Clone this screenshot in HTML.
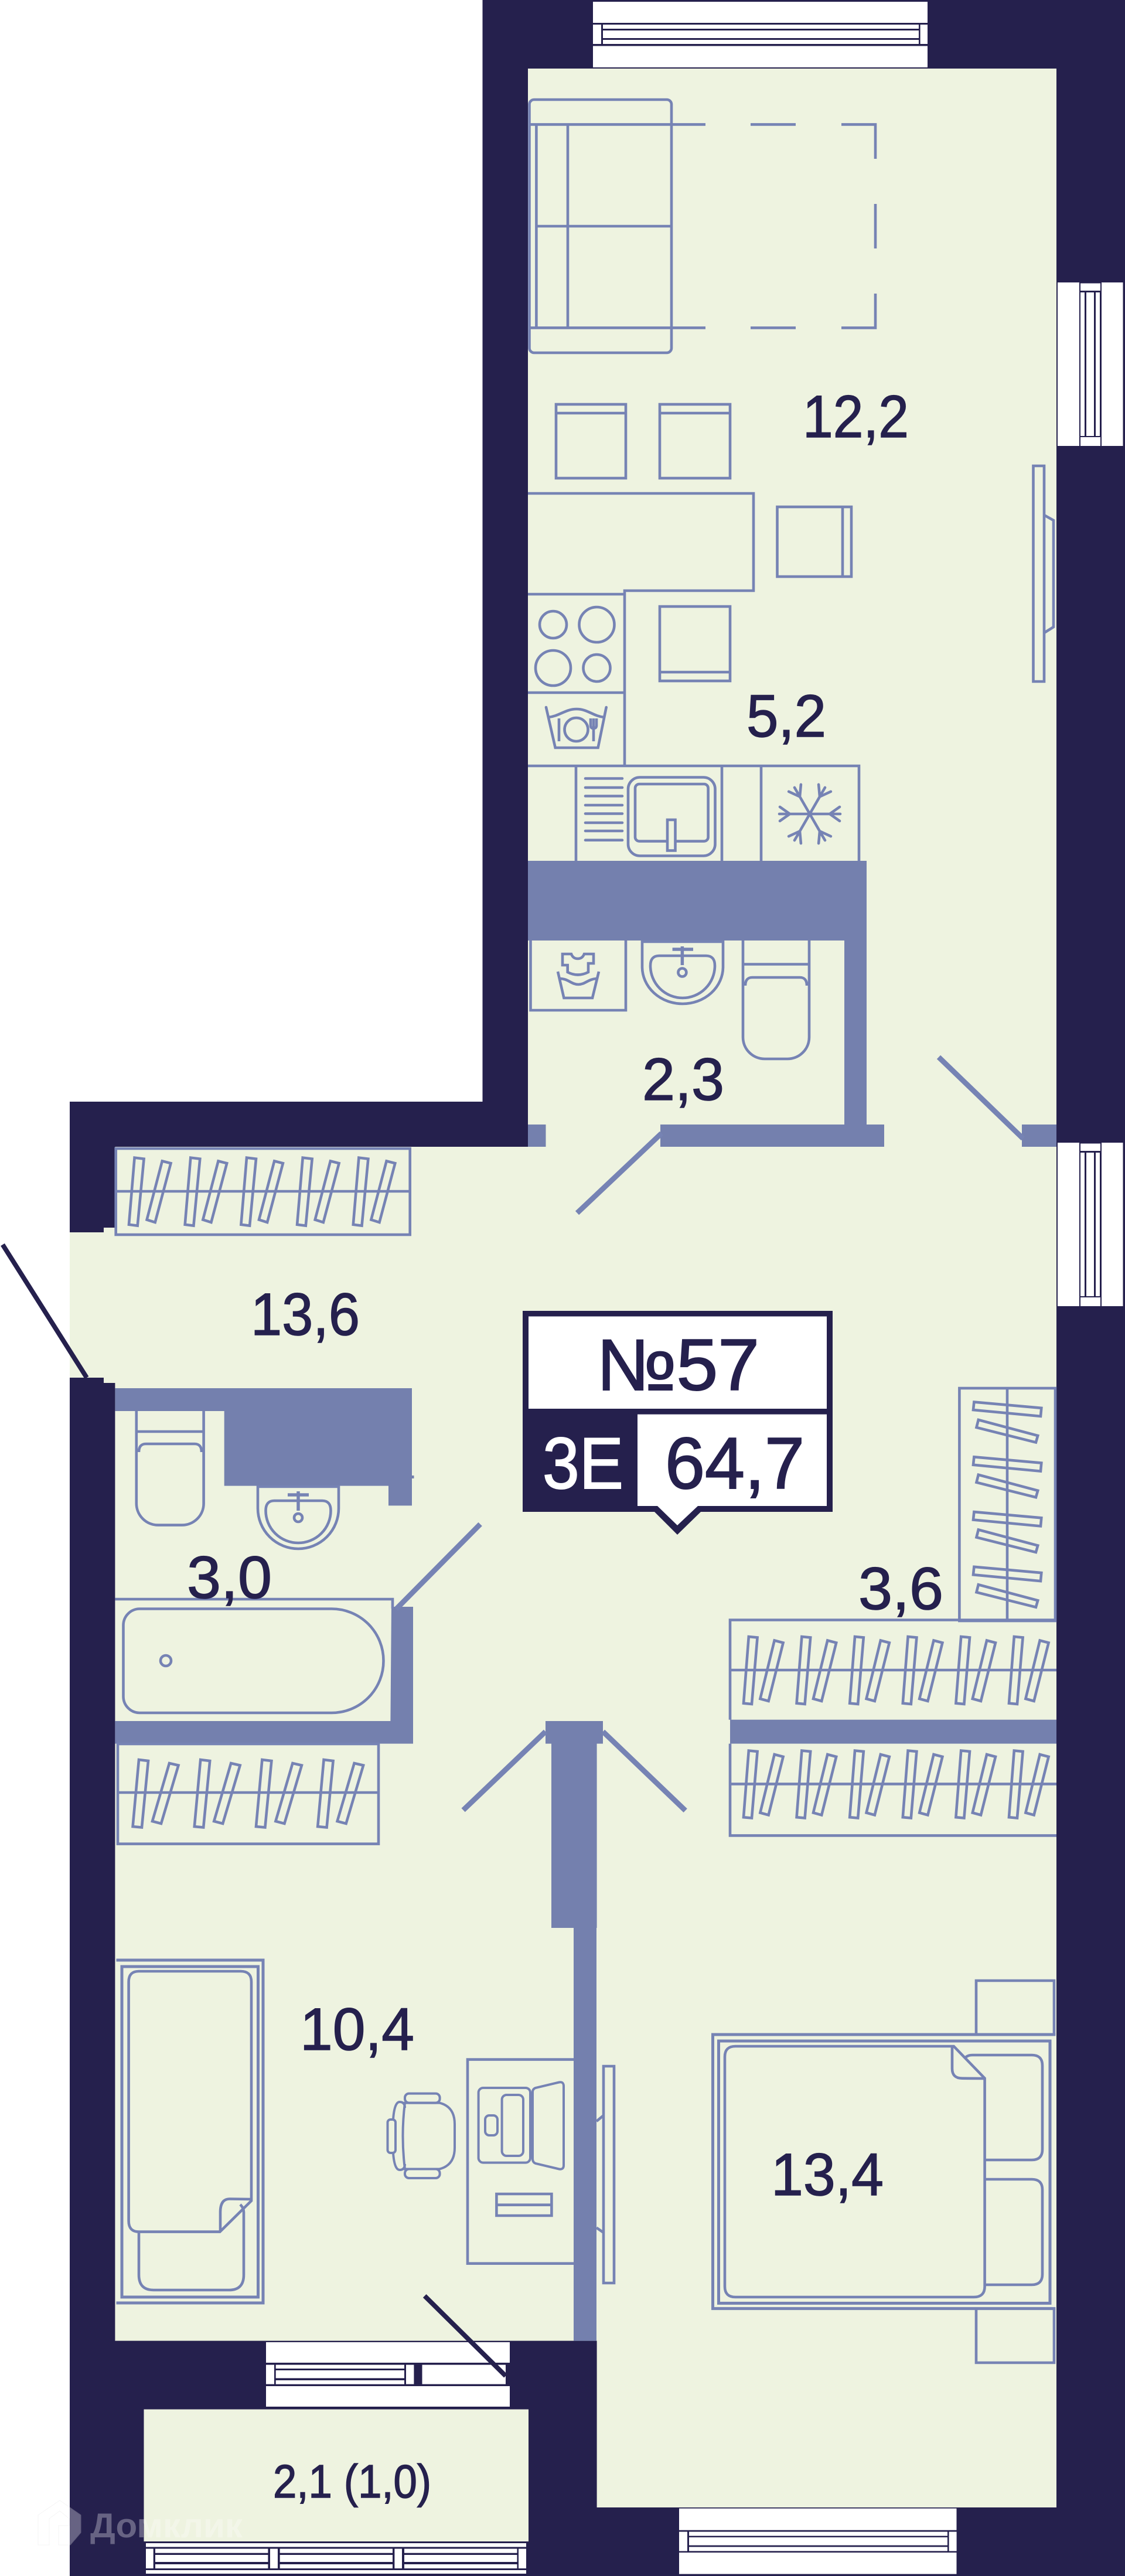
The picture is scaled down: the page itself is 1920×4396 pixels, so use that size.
<!DOCTYPE html>
<html lang="ru"><head><meta charset="utf-8"><title>План квартиры №57</title>
<style>
html,body{margin:0;padding:0;background:#fff}
svg{display:block}
text{font-family:"Liberation Sans","Noto Sans CJK SC",sans-serif;fill:#25204d;font-size:102px;stroke:#25204d;stroke-width:1.5px}
.l{fill:none;stroke:#7683b4;stroke-width:4.6}
.t{fill:none;stroke:#7683b4;stroke-width:4}
.b{fill:#7480ae}
.w{fill:#fff}
.d{stroke:#7683b4;stroke-width:9;fill:none}
.k{stroke:#25204d;stroke-width:8;fill:none}
</style></head><body>
<svg xmlns="http://www.w3.org/2000/svg" width="1920" height="4396" viewBox="0 0 1920 4396">
<defs>
<g id="h1" class="l"><path d="M229.6 1975.6L245.6 1977.6L234.7 2091.7L220 2089.8Z"/><path d="M276.8 1981.4L291.5 1985.2L264.7 2086L250.6 2081.5Z"/></g>
<g id="h2" class="l"><path d="M237 3003L253 3005L242 3118.5L226.6 3117Z"/><path d="M289 3009L304.5 3012.6L275 3112L260 3108Z"/></g>
<g id="h3" class="l"><path d="M1277.8 2793L1292.6 2794.4L1283 2908L1269 2906.7Z"/><path d="M1321.7 2799.5L1336.6 2803.4L1311.6 2902.9L1297.4 2899Z"/></g>
<g id="h4" class="l"><path d="M1662.4 2392.6L1777.3 2402.8L1776 2416.9L1661 2406Z"/><path d="M1669.8 2423L1771.2 2450L1767.9 2461.5L1666.5 2436Z"/></g>
<path id="arm" d="M0 0V-52M-12 -51L0 -34L12 -51" fill="none" stroke="#7683b4" stroke-width="4.6" stroke-linecap="round"/>
</defs>
<rect width="1920" height="4396" fill="#fff"/>
<rect x="823.5" y="0" width="1096.5" height="1880" fill="#25204d"/>
<rect x="119" y="1880" width="1801" height="2516" fill="#25204d"/>
<path fill="#eef3e0" d="M901 117H1803V4279H1018.6V3994.6H196.4V2360H177V2351H119V2103H177V2095H196.5V1957H901Z"/>
<rect x="245.5" y="4111.6" width="656.5" height="225.4" fill="#eef3e0"/>

<!-- top window -->
<g class="w">
<rect x="1012" y="3" width="571" height="36"/><rect x="1012" y="78.5" width="571" height="36.5"/>
<rect x="1012" y="42" width="14" height="33"/><rect x="1570.6" y="42" width="12.4" height="33"/>
<rect x="1029" y="42" width="539" height="7"/><rect x="1029" y="52" width="539" height="13"/><rect x="1029" y="68" width="539" height="7"/>
<!-- right window 1 -->
<rect x="1805" y="482" width="37" height="279"/><rect x="1880" y="482" width="36.5" height="279"/>
<rect x="1844" y="483.5" width="34" height="12.5"/><rect x="1844" y="746" width="34" height="15"/>
<rect x="1844" y="499" width="7" height="245"/><rect x="1854" y="499" width="13" height="245"/><rect x="1870" y="499" width="7" height="245"/>
<!-- right window 2 -->
<rect x="1805" y="1950" width="37" height="279"/><rect x="1880" y="1950" width="36.5" height="279"/>
<rect x="1844" y="1951.5" width="34" height="12.5"/><rect x="1844" y="2214" width="34" height="15"/>
<rect x="1844" y="1967" width="7" height="245"/><rect x="1854" y="1967" width="13" height="245"/><rect x="1870" y="1967" width="7" height="245"/>
<!-- bottom bedroom window -->
<rect x="1159" y="4280.7" width="473.5" height="37"/><rect x="1159" y="4356" width="473.5" height="36.6"/>
<rect x="1159" y="4320.5" width="14" height="33"/><rect x="1619.6" y="4320.5" width="13" height="33"/>
<rect x="1176" y="4320.5" width="441" height="7"/><rect x="1176" y="4330" width="441" height="13.6"/><rect x="1176" y="4346.4" width="441" height="7"/>
<!-- balcony door window -->
<rect x="454" y="3997" width="416" height="35"/><rect x="454" y="4072" width="416" height="35"/>
<rect x="454" y="4035.6" width="14" height="33"/><rect x="693" y="4035.6" width="13.4" height="33"/>
<rect x="470.7" y="4035.6" width="219.3" height="6.4"/><rect x="470.7" y="4045" width="219.3" height="13.4"/><rect x="470.7" y="4062" width="219.3" height="6.7"/>
<rect x="720.5" y="4035.6" width="142.5" height="33"/>
<!-- balcony window -->
<rect x="249" y="4340" width="649" height="6.4"/><rect x="249" y="4386" width="649" height="6"/>
<rect x="249" y="4349.5" width="12.7" height="33.5"/><rect x="461" y="4349.5" width="13" height="33.5"/><rect x="673.4" y="4349.5" width="12.6" height="33.5"/><rect x="885" y="4349.5" width="13" height="33.5"/>
<rect x="265" y="4349.5" width="192.4" height="7.2"/><rect x="265" y="4360" width="192.4" height="12"/><rect x="265" y="4376" width="192.4" height="7"/>
<rect x="477.7" y="4349.5" width="192.3" height="7.2"/><rect x="477.7" y="4360" width="192.3" height="12"/><rect x="477.7" y="4376" width="192.3" height="7"/>
<rect x="690" y="4349.5" width="192.5" height="7.2"/><rect x="690" y="4360" width="192.5" height="12"/><rect x="690" y="4376" width="192.5" height="7"/>
</g>

<!-- blue partitions -->
<g class="b">
<path d="M901 1469H1479V1919H1509V1957H1127V1919H1441V1605H901Z"/>
<rect x="901" y="1919" width="30.5" height="38"/>
<rect x="1744" y="1919" width="59" height="38"/>
<path d="M196.5 2369H703V2569.4H663V2535.6H382.7V2408H196.5Z"/>
<rect x="703" y="2518" width="3.5" height="5"/>
<path d="M668 2742H705V2975.6H196.4V2937H666.4Z"/>
<rect x="1246" y="2934.7" width="557" height="40.9"/>
<path d="M931 2937H1029V2975.6H1018.6V3290H1018V3994.6H979V3290H941V2975.6H931Z"/>
</g>

<!-- doors -->
<g class="d">
<path d="M1602 1804L1746 1943"/>
<path d="M1129 1934L985 2070"/>
<path d="M819.6 2601L676 2746"/>
<path d="M931 2955L790.6 3089"/>
<path d="M1029 2955L1169.7 3089.7"/>
</g>
<g class="k">
<path d="M4.5 2124L148 2351"/>
<path d="M724.7 3918L863 4054.6"/>
</g>

<!-- sofa and rug -->
<g class="l">
<rect x="903.5" y="170" width="242.5" height="432" rx="8"/>
<path d="M903.5 212.4H1204M1281 212.4H1358M1436 212.4H1494V271M1494 348V424M1494 501V559.4H1436M1358 559.4H1281M1204 559.4H903.5"/>
<path d="M915.4 212.4V559.4M969 212.4V559.4M915.4 386H1144"/>
<!-- chairs -->
<rect x="949" y="690" width="119" height="126"/><path d="M949 705H1068"/>
<rect x="1126" y="690" width="120" height="126"/><path d="M1126 705H1246"/>
<rect x="1326.5" y="865" width="126.5" height="119"/><path d="M1438 865V984"/>
<rect x="1126" y="1035" width="120" height="127"/><path d="M1126 1147H1246"/>
<!-- table, counter -->
<path d="M901 842H1286V1008H1066V1307"/>
<path d="M901 1014H1066M901 1182H1066M901 1307H1466V1469M983 1307V1469M1232 1307V1469M1299 1307V1469"/>
<circle cx="944" cy="1066" r="23"/><circle cx="1018.5" cy="1066" r="30"/><circle cx="944" cy="1140" r="30"/><circle cx="1018.5" cy="1140" r="23"/>
<!-- dishwasher -->
<path d="M932 1207L947.7 1276H1020.6L1034.7 1207" stroke-linecap="round"/>
<path d="M936 1224C955 1222 965 1210 984 1210C1003 1210 1012 1222 1031 1224"/>
<circle cx="983.5" cy="1245" r="20"/>
<path d="M954 1226V1265M1013 1226V1265M1008 1226V1238Q1008 1243 1013 1243Q1018 1243 1018 1238V1226"/>
<!-- sink -->
<rect x="1072" y="1326.5" width="148.5" height="134" rx="20"/>
<rect x="1084" y="1338" width="124.6" height="97.6" rx="7"/>
<rect x="1139" y="1399" width="13.5" height="52.5" fill="#eef3e0"/>
<path d="M999 1328.5H1062M999 1344H1062M999 1358.5H1062M999 1374H1062M999 1388.5H1062M999 1404H1062M999 1418H1062M999 1433.7H1062" stroke-linecap="round"/>
<!-- TV -->
<path d="M1763.5 795H1782V1163H1763.5ZM1782 879L1798 888V1070L1782 1080"/>
<!-- laundry -->
<path d="M905.5 1605V1724H1068V1605"/>
<path d="M960 1628H975Q978 1636 986 1636Q994 1636 997 1628H1013V1644H1004V1659Q986 1668 968.7 1659V1647H960Z"/>
<path d="M952 1658L962.4 1703H1011L1022 1658"/>
<path d="M955 1670C970 1670 975 1680 987 1680C999 1680 1004 1670 1020 1670"/>
<!-- wc1 -->
<path d="M1096 1607H1234V1650A69 63 0 0 1 1096 1650Z"/>
<path d="M1125 1631H1205Q1220 1631 1220 1648A55 55 0 0 1 1110 1648Q1110 1631 1125 1631Z"/>
<circle cx="1164.4" cy="1659.5" r="7"/>
<path d="M1147.6 1620H1183M1164.4 1615V1647" stroke-width="5.5"/>
<path d="M1268 1605V1770A37 37 0 0 0 1305 1807H1344A37 37 0 0 0 1381 1770V1605M1268 1645.5H1381M1272 1682Q1272 1668 1284 1668H1365Q1377 1668 1377 1682"/>
<!-- wardrobes -->
<rect x="197.7" y="1960" width="502" height="147"/><path d="M197.7 2033H699.7"/>
<rect x="201" y="2976" width="445" height="170.6"/><path d="M201 3059H646"/>
<path d="M1803 2764.5H1246V2934.7M1246 2850H1803M1246 2975.6V3132.4H1803M1246 3044.4H1803"/>
<rect x="1637.4" y="2369" width="163.6" height="397"/><path d="M1719 2369V2766"/>
<!-- wc2 -->
<path d="M232.8 2408V2565A37 37 0 0 0 270 2602.6H310A37 37 0 0 0 347.6 2565V2408M232.8 2443H347.6M237 2478Q237 2464 249 2464H332Q344 2464 344 2478"/>
<path d="M440 2537H578V2574A69 69 0 0 1 440 2574Z"/>
<path d="M468 2561H550Q564.5 2561 564.5 2578A55.5 55 0 0 1 453.5 2578Q453.5 2561 468 2561Z"/>
<circle cx="509" cy="2590" r="7"/>
<path d="M491 2551H527M509 2545V2578" stroke-width="5.5"/>
<!-- bath -->
<path d="M196.5 2729H670V2745"/>
<path d="M238 2745.5H566A88.5 88.5 0 0 1 654.5 2834A88.5 88.5 0 0 1 566 2923H238A28 28 0 0 1 210.5 2895V2773A28 28 0 0 1 238 2745.5Z"/>
<circle cx="283" cy="2834" r="9"/>
<!-- single bed -->
<path d="M198.5 3345H449V3930H198.5" stroke-width="5"/>
<rect x="208" y="3356" width="232.5" height="564" stroke-width="5"/>
<path d="M237 3364H411Q429 3364 429 3382V3755.7L375.3 3808.6H237Q219.6 3808.6 219.6 3790V3382Q219.6 3364 237 3364Z"/>
<path d="M429 3753L392 3752.5Q376 3752.5 376 3775V3808"/>
<path d="M237 3808.6V3882Q237 3908 262 3908H391Q416 3908 416 3882V3775Q416 3768 410 3762"/>
<!-- desk -->
<path d="M979 3514.6H798V3862.7H979"/>
<rect x="816.6" y="3563" width="88.4" height="127.6" rx="8" class="t"/>
<rect x="856.6" y="3575" width="36.4" height="104" rx="8" class="t"/>
<rect x="828" y="3610" width="21" height="34" rx="7" class="t"/>
<path class="t" d="M909 3570Q909 3565 914 3563L954 3553.5Q962 3552 962 3560V3695Q962 3703 954 3701.5L914 3692Q909 3690 909 3684Z"/>
<path d="M847.4 3744H941.4V3781H847.4ZM847.4 3762.7H941.4"/>
<!-- office chair -->
<path class="t" d="M691 3588.6H750Q776 3595 776 3625V3665Q776 3695 750 3701.5H691Q684 3645 691 3588.6Z"/>
<rect class="t" x="691" y="3572.6" width="59.6" height="16" rx="7"/>
<rect class="t" x="691" y="3701.5" width="59.6" height="15.5" rx="7"/>
<rect class="t" x="661.5" y="3617" width="13.5" height="57" rx="5"/>
<path class="t" d="M671 3617Q673 3587 682 3587Q691 3587 691 3597M671 3674Q673 3703 682 3703Q691 3703 691 3693"/>
<!-- TV 2 -->
<path d="M1030 3526H1048V3896H1030ZM1018 3620L1030 3610M1018 3801.6L1030 3810"/>
<!-- double bed -->
<path d="M1801.4 3472H1216.5V3939.6H1801.4" stroke-width="5"/>
<rect x="1226.5" y="3483" width="565.5" height="447.5" stroke-width="5"/>
<path d="M1255 3492H1627.8L1680.6 3546.7V3902Q1680.6 3920 1662 3920H1255Q1237 3920 1237 3902V3510Q1237 3492 1255 3492Z"/>
<path d="M1625 3494V3530Q1625 3546.7 1642 3546.7L1680.6 3547"/>
<path d="M1648 3511Q1652 3507 1660 3507H1761Q1779 3507 1779 3525V3668Q1779 3686 1761 3686H1680.6"/>
<path d="M1680.6 3719H1761Q1779 3719 1779 3737V3881Q1779 3899 1761 3899H1680.6"/>
<path d="M1666 3472V3380H1799V3472M1666 3939.6V4032H1799V3939.6"/>
</g>

<!-- hangers -->
<use href="#h1"/><use href="#h1" x="95.7"/><use href="#h1" x="191.4"/><use href="#h1" x="287.1"/><use href="#h1" x="382.8"/>
<use href="#h2"/><use href="#h2" x="105.2"/><use href="#h2" x="210.4"/><use href="#h2" x="315.6"/>
<use href="#h3"/><use href="#h3" x="90.6"/><use href="#h3" x="181.2"/><use href="#h3" x="271.8"/><use href="#h3" x="362.4"/><use href="#h3" x="453"/>
<use href="#h3" y="194.5"/><use href="#h3" x="90.6" y="194.5"/><use href="#h3" x="181.2" y="194.5"/><use href="#h3" x="271.8" y="194.5"/><use href="#h3" x="362.4" y="194.5"/><use href="#h3" x="453" y="194.5"/>
<use href="#h4"/><use href="#h4" y="93.75"/><use href="#h4" y="187.5"/><use href="#h4" y="281.25"/>

<!-- snowflake -->
<g transform="translate(1382 1389)">
<use href="#arm" transform="rotate(30)"/><use href="#arm" transform="rotate(90)"/><use href="#arm" transform="rotate(150)"/><use href="#arm" transform="rotate(210)"/><use href="#arm" transform="rotate(270)"/><use href="#arm" transform="rotate(330)"/>
</g>

<!-- label box -->
<path fill="#25204d" d="M892 2237H1421V2580H1196L1156 2619L1117 2580H892Z"/>
<rect class="w" x="902" y="2246.5" width="509" height="157.5"/>
<path class="w" d="M1088 2413.6H1411V2570H1191L1156 2603L1122 2570H1088Z"/>
<text x="1018" y="2372" style="font-size:124px;stroke-width:2px" textLength="278" lengthAdjust="spacingAndGlyphs">№57</text>
<text x="926" y="2540" style="font-size:124px;fill:#fff;stroke:#fff;stroke-width:2px" textLength="138" lengthAdjust="spacingAndGlyphs">3Е</text>
<text x="1135" y="2540" style="font-size:124px;stroke-width:2px" textLength="238" lengthAdjust="spacingAndGlyphs">64,7</text>

<!-- area labels -->
<text x="1370" y="746" textLength="181" lengthAdjust="spacingAndGlyphs">12,2</text>
<text x="1274" y="1257" textLength="136" lengthAdjust="spacingAndGlyphs">5,2</text>
<text x="1096" y="1877" textLength="140" lengthAdjust="spacingAndGlyphs">2,3</text>
<text x="428" y="2278" textLength="186" lengthAdjust="spacingAndGlyphs">13,6</text>
<text x="319" y="2727" textLength="145" lengthAdjust="spacingAndGlyphs">3,0</text>
<text x="1465" y="2746" textLength="145" lengthAdjust="spacingAndGlyphs">3,6</text>
<text x="512" y="3498" textLength="195" lengthAdjust="spacingAndGlyphs">10,4</text>
<text x="1316" y="3746" textLength="192" lengthAdjust="spacingAndGlyphs">13,4</text>
<text x="466" y="4262" style="font-size:80px" textLength="270" lengthAdjust="spacingAndGlyphs">2,1 (1,0)</text>

<!-- watermark -->
<g opacity=".3">
<path fill="#fff" stroke="#ddd" stroke-width="1" d="M65 4343V4292L102 4267L138 4292V4322L120 4343H100V4310H118V4298L102 4285L84 4298V4343Z"/>
<text x="154" y="4330" style="font-size:58px;font-weight:bold;fill:#fff;stroke:none" textLength="260" lengthAdjust="spacingAndGlyphs">Домклик</text>
</g>
</svg>
</body></html>
